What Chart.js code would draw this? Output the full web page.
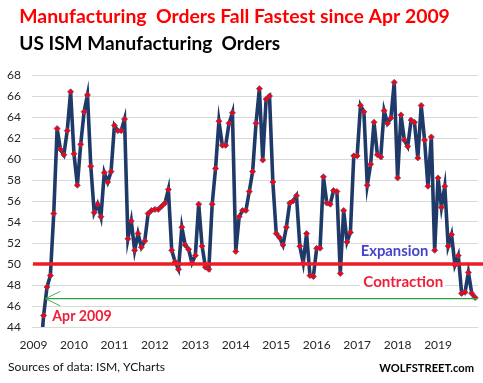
<!DOCTYPE html>
<html>
<head>
<meta charset="utf-8">
<script src="https://cdn.jsdelivr.net/npm/chart.js@4/dist/chart.umd.min.js"></script>
<style>
html,body{margin:0;padding:0;background:#fff;}
#wrap{width:483px;height:383px;position:relative;}
canvas{display:block;}
</style>
</head>
<body>
<div id="wrap"><canvas id="c" width="483" height="383"></canvas></div>
<script>
// ---- data ----
const years = ['2009','2010','2011','2012','2013','2014','2015','2016','2017','2018','2019'];
const monthNames = ['Jan','Feb','Mar','Apr','May','Jun','Jul','Aug','Sep','Oct','Nov','Dec'];
const months = years.flatMap(y => monthNames.map(m => m + ' ' + y));
const orders = [
  // 2009
  33.2, 33.1, 41.1, 45.1, 47.8, 48.9, 54.8, 62.9, 60.9, 60.4, 62.7, 66.4,
  // 2010
  60.5, 57.5, 61.4, 64.5, 66.1, 59.3, 54.9, 55.7, 54.5, 58.7, 57.8, 58.8,
  // 2011
  63.2, 62.7, 62.7, 63.8, 52.4, 54.1, 51.3, 52.9, 51.6, 52.2, 54.8, 55.1,
  // 2012
  55.2, 55.2, 55.5, 55.8, 57.1, 51.3, 50.2, 49.5, 53.5, 51.8, 51.4, 50.1,
  // 2013
  50.8, 55.7, 51.7, 49.7, 49.5, 55.7, 59.1, 63.6, 61.3, 61.3, 63.4, 64.4,
  // 2014
  51.2, 54.5, 55.1, 55.1, 56.9, 58.8, 63.4, 66.7, 59.9, 65.7, 66.0, 57.8,
  // 2015
  52.9, 52.5, 51.8, 53.5, 55.8, 56.0, 56.5, 51.7, 50.1, 52.9, 48.9, 48.8,
  // 2016
  51.5, 51.5, 58.3, 55.8, 55.7, 57.0, 56.9, 49.1, 55.1, 52.1, 53.0, 60.3,
  // 2017
  60.3, 65.1, 64.5, 57.5, 59.5, 63.5, 60.4, 60.2, 64.6, 63.4, 63.9, 67.3,
  // 2018
  58.2, 64.2, 61.8, 61.2, 63.7, 63.5, 60.1, 65.1, 61.8, 57.4, 62.1, 51.3,
  // 2019
  58.2, 55.4, 57.4, 51.7, 52.8, 49.9, 50.8, 47.2, 47.3, 49.2, 47.2, 46.8
];
const expansionLevel = 50;
const aprilLevel = 46.7;
const aprilIndex = 3.55;

const titleText = 'Manufacturing  Orders Fall Fastest since Apr 2009';
const subtitleText = 'US ISM Manufacturing  Orders';
const sourceText = 'Sources of data: ISM, YCharts';
const brandText = 'WOLFSTREET.com';

// ---- helpers ----
const FAMILY = 'Lato, "Open Sans", sans-serif';
function fitText(ctx, text, x, baseline, targetW, weight, guess, color) {
  ctx.font = weight + ' ' + guess + 'px ' + FAMILY;
  const w = ctx.measureText(text).width;
  const size = guess * targetW / w;
  ctx.font = weight + ' ' + size.toFixed(2) + 'px ' + FAMILY;
  ctx.fillStyle = color;
  ctx.textAlign = 'left';
  ctx.textBaseline = 'alphabetic';
  ctx.fillText(text, x, baseline);
}

const annotations = {
  id: 'annotations',
  afterDatasetsDraw(chart) {
    const ctx = chart.ctx;
    const area = chart.chartArea;
    const xs = chart.scales.x, ys = chart.scales.y;
    ctx.save();
    // green reference line with arrowhead
    const gy = ys.getPixelForValue(aprilLevel);
    const gx = xs.getPixelForValue(aprilIndex);
    ctx.strokeStyle = '#2e9e44';
    ctx.lineWidth = 1.2;
    ctx.beginPath();
    ctx.moveTo(gx, gy);
    ctx.lineTo(area.right, gy);
    ctx.stroke();
    ctx.lineWidth = 1;
    ctx.strokeStyle = '#45b055';
    ctx.beginPath();
    ctx.moveTo(gx, gy); ctx.lineTo(gx + 14.7, gy - 7.2);
    ctx.moveTo(gx, gy); ctx.lineTo(gx + 14.7, gy + 7.2);
    ctx.stroke();

    // red 50 line (drawn on top of series)
    const ry = ys.getPixelForValue(expansionLevel);
    ctx.strokeStyle = '#ee1c25';
    ctx.lineWidth = 3.6;
    ctx.beginPath();
    ctx.moveTo(area.left + 1, ry);
    ctx.lineTo(chart.width, ry);
    ctx.stroke();

    // Contraction white box
    ctx.fillStyle = '#ffffff';
    ctx.fillRect(360, ry + 12, 85, 14);
    fitText(ctx, 'Expansion', 360.7, ry - 8, 67.6, 'bold', 14, '#4444cc');
    fitText(ctx, 'Contraction', 363.3, ry + 23, 80, 'bold', 14, '#ef1f3a');
    fitText(ctx, 'Apr 2009', 52.3, ys.getPixelForValue(44) - 5.6, 59.4, 'bold', 15, '#ef1f3a');
    ctx.restore();
  },
  afterDraw(chart) {
    const ctx = chart.ctx;
    ctx.save();
    fitText(ctx, titleText, 19.3, 23.3, 431, 'bold', 17, '#ff0000');
    fitText(ctx, subtitleText, 19.3, 50, 261, 'bold', 17, '#000000');
    fitText(ctx, sourceText, 8, 371, 157, 'normal', 13, '#111111');
    fitText(ctx, brandText, 379.3, 371.7, 94.7, 'bold', 13, '#000000');
    ctx.restore();
  }
};

const tickFont = { family: FAMILY, size: 12 };
const tickColor = '#262626';

new Chart(document.getElementById('c'), {
  type: 'line',
  data: {
    labels: months,
    datasets: [{
      label: 'US ISM Manufacturing Orders',
      data: orders.map((v, i) => ({ x: i, y: v })),
      borderColor: '#1f3a68',
      borderWidth: 3.6,
      tension: 0,
      pointStyle: 'rectRot',
      pointRadius: 3,
      pointBackgroundColor: '#ff0000',
      pointBorderColor: '#5a4a8a',
      pointBorderWidth: 0.8,
      clip: { left: 6, top: 6, right: 6, bottom: 0 }
    }]
  },
  options: {
    responsive: false,
    animation: false,
    devicePixelRatio: 1,
    layout: { padding: { top: 75, right: 5, bottom: 26, left: 0 } },
    plugins: {
      legend: { display: false },
      tooltip: { enabled: false },
      title: { display: false }
    },
    scales: {
      x: {
        type: 'linear',
        min: -0.45,
        max: 131.85,
        grid: { display: false },
        border: { display: false },
        afterBuildTicks: s => { s.ticks = years.map((y, i) => ({ value: i * 12 })); },
        afterFit: s => { s.height = 30; },
        ticks: {
          autoSkip: false,
          maxRotation: 0,
          padding: 3,
          font: tickFont,
          color: tickColor,
          callback: v => years[Math.round(v / 12)]
        }
      },
      y: {
        min: 44,
        max: 68,
        grid: { color: '#d9d9d9', lineWidth: 1, drawTicks: false },
        border: { display: false },
        afterFit: s => { s.width = 32; },
        ticks: { stepSize: 2, padding: 11, font: tickFont, color: tickColor }
      }
    }
  },
  plugins: [annotations]
});
</script>
</body>
</html>
